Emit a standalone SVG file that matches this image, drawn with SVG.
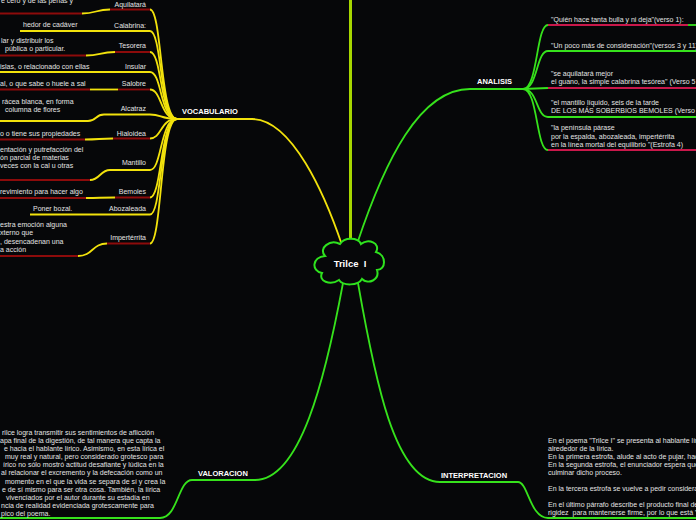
<svg xmlns="http://www.w3.org/2000/svg" width="696" height="520" viewBox="0 0 696 520">
<style>
.t{font-family:"Liberation Sans",Arial,sans-serif;font-size:7px;fill:#e4e4e4}
.e{text-anchor:end}
.h{font-family:"Liberation Sans",Arial,sans-serif;font-weight:bold;font-size:7.5px;fill:#ffffff}
.y{fill:none;stroke:#f2e20c;stroke-width:1.8}
.r{fill:none;stroke:#8c0b0b;stroke-width:1.8}
.g{fill:none;stroke:#36e21c;stroke-width:1.8}
.c{fill:none;stroke:#c9184b;stroke-width:1.8}
</style>
<rect width="696" height="520" fill="#060709"/>
<g id="connectors">
<line x1="350.5" y1="0" x2="350.5" y2="244" stroke="#a6d600" stroke-width="3"/>
<path class="y" stroke-width="2.2" d="M177,119 H252 C292,119 325,195 342,245"/>
<path class="y" d="M150,9.5 C162,9.5 160,119 177,119"/>
<path class="y" d="M150,31 C162,31 160,119 177,119"/>
<path class="y" d="M150,52 C162,52 160,119 177,119"/>
<path class="y" d="M150,72 C162,72 160,119 177,119"/>
<path class="y" d="M150,89.5 C162,89.5 160,119 177,119"/>
<path class="y" d="M150,114.5 C162,114.5 160,119 177,119"/>
<path class="y" d="M150,138.5 C162,138.5 160,119 177,119"/>
<path class="y" d="M150,170 C162,170 160,119 177,119"/>
<path class="y" d="M150,197.5 C162,197.5 160,119 177,119"/>
<path class="y" d="M150,214.5 C162,214.5 160,119 177,119"/>
<path class="y" d="M150,243.5 C162,243.5 160,119 177,119"/>
<path class="g" stroke-width="2.2" d="M357,244 C385,160 420,89 470,89 H523"/>
<path class="g" d="M523,89 C538,89 536,25 548,25"/>
<path class="g" d="M523,89 C538,89 536,51 548,51"/>
<path class="g" d="M523,89 L548,88"/>
<path class="g" d="M523,89 C538,89 536,117 548,117"/>
<path class="g" d="M523,89 C538,89 536,150 548,150"/>
<path class="g" stroke-width="2.2" d="M343,283 C325,380 300,480 255,480 H192 C178,480 178,518 160,518 H0"/>
<path class="g" stroke-width="2.2" d="M358,283 C375,380 395,482 440,482 H518 C528,482 530,518 548,518 H696"/>
</g>
<g id="center">
<path d="M325,256 C318,248 330,239 340,244 C344,237 358,237 361,244 C368,238 381,243 376,252 C387,255 386,270 377,270 C380,280 368,285 362,279 C358,286 343,286 339,280 C330,286 318,281 322,273 C311,271 312,257 325,256 Z" fill="#060709" stroke="#2ee21e" stroke-width="2"/>
<text x="350" y="266.5" text-anchor="middle" font-family="Liberation Sans,Arial,sans-serif" font-weight="bold" font-size="9.5" fill="#ffffff" xml:space="preserve">Trilce  I</text>
</g>
<g id="vocabulario"><text class="h" x="182" y="114">VOCABULARIO</text></g>
<g id="aquilatara">
<path class="r" d="M150,9.5 H110"/><path class="y" d="M110,9.5 C96,9.5 96,13.5 82,13.5"/><path class="r" d="M82,13.5 H0"/>
<text class="t e" x="146" y="7">Aquilatará</text>
<text class="t" x="1" y="2.5">e cero y de las penas y</text>
</g>
<g id="calabrina">
<path class="y" d="M150,31 H20"/>
<text class="t e" x="146" y="27.5">Calabrina:</text>
<text class="t" x="23" y="27">hedor de cadáver</text>
</g>
<g id="tesorera">
<path class="r" d="M150,52 H115"/><path class="y" d="M115,52 C100,52 100,55.5 86,55.5"/><path class="r" d="M86,55.5 H0"/>
<text class="t e" x="146" y="48">Tesorera</text>
<text class="t" x="1" y="43">lar y distribuir los</text>
<text class="t" x="5" y="50.5">pública o particular.</text>
</g>
<g id="insular">
<path class="y" d="M150,72 H0"/>
<text class="t e" x="146" y="69">Insular</text>
<text class="t" x="0" y="69">islas, o relacionado con ellas</text>
</g>
<g id="salobre">
<path class="r" d="M150,89.5 H118"/><path class="y" d="M118,89.5 H90"/><path class="r" d="M90,89.5 H0"/>
<text class="t e" x="146" y="86">Salobre</text>
<text class="t" x="0" y="86">al, o que sabe o huele a sal</text>
</g>
<g id="alcatraz">
<path class="y" d="M150,114.5 H104 C95,114.5 97,121 88,121 H0"/>
<text class="t e" x="146" y="111">Alcatraz</text>
<text class="t" x="2" y="103.5">rácea blanca, en forma</text>
<text class="t" x="5" y="111.5">columna de flores</text>
</g>
<g id="hialoidea">
<path class="r" d="M150,138.5 H113"/><path class="y" d="M113,138.5 C99,138.5 99,139.5 85,139.5"/><path class="r" d="M85,139.5 H0"/>
<text class="t e" x="146" y="136">Hialoidea</text>
<text class="t" x="0" y="136">o o tiene sus propiedades</text>
</g>
<g id="mantillo">
<path class="y" d="M150,170 H110 C100,170 100,180 90,180"/><path class="r" d="M90,180 H0"/>
<text class="t e" x="146" y="165">Mantillo</text>
<text class="t" x="0" y="152">entación y putrefacción del</text>
<text class="t" x="0" y="160">ón parcial de materias</text>
<text class="t" x="0" y="168">veces con la cal u otras</text>
</g>
<g id="bemoles">
<path class="r" d="M150,197.5 H115"/><path class="y" d="M115,197.5 C100,197.5 100,198 86,198"/><path class="r" d="M86,198 H0"/>
<text class="t e" x="146" y="194">Bemoles</text>
<text class="t" x="0" y="194">revimiento para hacer algo</text>
</g>
<g id="abozaleada">
<path class="y" d="M150,214.5 H30"/>
<text class="t e" x="146" y="211">Abozaleada</text>
<text class="t" x="33" y="211">Poner bozal.</text>
</g>
<g id="imperterrita">
<path class="r" d="M150,243.5 H107"/><path class="y" d="M107,243.5 C92,243.5 93,256 78,256"/><path class="r" d="M78,256 H0"/>
<text class="t e" x="146" y="240">Impertérrita</text>
<text class="t" x="0" y="227">estra emoción alguna</text>
<text class="t" x="0" y="235">xterno que</text>
<text class="t" x="0" y="243.5">, desencadenan una</text>
<text class="t" x="0" y="252">a acción</text>
</g>
<g id="analisis"><text class="h" x="477" y="84">ANALISIS</text></g>
<g id="a1">
<path class="c" d="M548,25 H688"/><path class="g" d="M688,25 H696"/>
<text class="t" x="551" y="21.5">"Quién hace tanta bulla y ni deja"(verso 1):</text>
</g>
<g id="a2">
<path class="g" d="M548,51 H696"/>
<text class="t" x="551" y="47.5">"Un poco más de consideración"(versos 3 y 11)</text>
</g>
<g id="a3">
<path class="c" d="M548,88 H696"/>
<text class="t" x="551" y="75.5">"se aquilatará mejor</text>
<text class="t" x="551" y="83.5">el guano, la simple calabrina tesórea" (Verso 5</text>
</g>
<g id="a4">
<path class="g" d="M548,117 H696"/>
<text class="t" x="551" y="104.5">"el mantillo líquido, seis de la tarde</text>
<text class="t" x="551" y="113">DE LOS MÁS SOBERBIOS BEMOLES (Verso</text>
</g>
<g id="a5">
<path class="c" d="M548,150 H696"/>
<text class="t" x="551" y="130">"la península párase</text>
<text class="t" x="551" y="138.5">por la espalda, abozaleada, impertérrita</text>
<text class="t" x="551" y="147">en la línea mortal del equilibrio "(Estrofa 4)</text>
</g>
<g id="valoracion">
<text class="h" x="198" y="476">VALORACION</text>
<text class="t" x="2" y="434.5">rilce logra transmitir sus sentimientos de aflicción</text>
<text class="t" x="0" y="442.5">apa final de la digestión, de tal manera que capta la</text>
<text class="t" x="4" y="450.5">e hacia el hablante lírico. Asimismo, en esta lírica el</text>
<text class="t" x="5" y="459">muy real y natural, pero considerado grotesco para</text>
<text class="t" x="3" y="467">írico no sólo mostró actitud desafiante y lúdica en la</text>
<text class="t" x="1" y="475">al relacionar el excremento y la defecación como un</text>
<text class="t" x="5" y="483.5">momento en el que la vida se separa de sí y crea la</text>
<text class="t" x="2" y="491.5">e de sí mismo para ser otra cosa. También, la lírica</text>
<text class="t" x="6" y="500">vivenciados por el autor durante su estadía en</text>
<text class="t" x="1" y="508">ncia de realidad evidenciada grotescamente para</text>
<text class="t" x="1" y="516">pico del poema.</text>
</g>
<g id="interpretacion">
<text class="h" x="441" y="478">INTERPRETACION</text>
<text class="t" x="548" y="442.5">En el poema "Trilce I" se presenta al hablante lírico</text>
<text class="t" x="548" y="450.5">alrededor de la lírica.</text>
<text class="t" x="548" y="458.5">En la primera estrofa, alude al acto de pujar, hace</text>
<text class="t" x="548" y="466.5">En la segunda estrofa, el enunciador espera que</text>
<text class="t" x="548" y="474.5">culminar dicho proceso.</text>
<text class="t" x="548" y="490.5">En la tercera estrofa se vuelve a pedir consideración</text>
<text class="t" x="548" y="506.5">En el último párrafo describe el producto final de</text>
<text class="t" x="548" y="514.5" xml:space="preserve">rigidez  para mantenerse firme, por lo que está "</text>
</g>
</svg>
